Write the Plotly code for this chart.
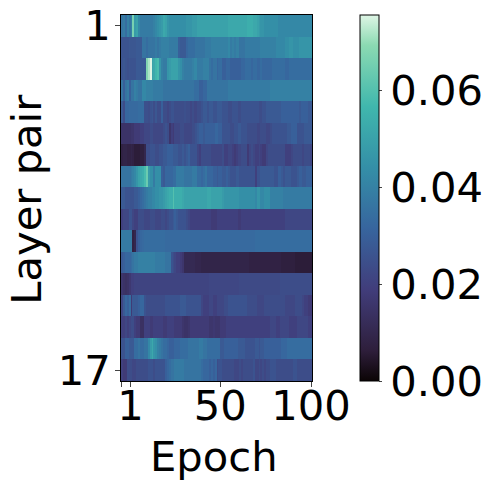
import numpy as np
import plotly.graph_objects as go

# per-mille values, 17 rows by 100 epochs
row01 = [36,38,34,40,36,40,66,48,50,42, 38,38,38,38,38,38,38,40,42,44, 46,48,52,50,46,44,44,44,44,44, 44,44,44,44,46,46,46,48,48,48, 50,50,50,50,50,50,50,50,50,50, 50,50,50,50,50,50,52,52,52,52, 52,52,52,52,52,52,54,54,54,52, 52,50,48,46,46,44,44,44,44,44, 44,44,42,42,42,42,42,42,42,42, 42,42,42,42,42,42,42,42,42,42]
row02 = [26,26,26,26,27,27,27,27,28,28, 28,36,36,34,36,36,36,36,38,36, 38,40,40,40,40,38,38,38,38,38, 30,28,28,28,32,34,34,34,34,36, 36,36,36,36,38,38,38,40,40,40, 40,40,40,40,40,40,42,38,40,38, 40,40,36,36,36,38,38,38,38,38, 38,38,38,40,40,40,40,40,40,40, 40,42,42,42,42,42,44,44,46,46, 44,44,44,46,46,46,46,46,46,46]
row03 = [26,27,26,25,26,26,26,26,28,28, 28,28,28,68,72,76,50,52,56,58, 46,40,38,38,46,48,50,50,50,50, 46,44,40,38,38,38,38,40,42,42, 38,38,38,40,40,40,36,34,36,36, 32,34,34,30,30,32,32,30,30,30, 30,30,30,32,32,34,34,34,32,34, 34,32,32,34,32,32,32,32,32,34, 34,34,34,34,34,34,32,32,34,34, 34,34,34,34,34,34,34,34,34,34]
row04 = [36,30,36,38,30,36,36,40,38,36, 36,42,42,40,40,40,40,38,38,38, 38,38,36,36,36,36,36,36,36,36, 36,36,36,36,36,36,36,36,34,34, 34,30,30,32,32,36,36,36,36,36, 36,36,36,36,36,36,38,38,38,38, 38,38,38,38,38,38,38,38,38,38, 38,38,38,38,38,38,38,38,40,40, 40,40,40,40,40,40,40,40,40,40, 40,40,40,40,40,40,40,40,40,40]
row05 = [28,24,32,32,33,33,33,33,33,34, 34,34,25,25,24,26,27,24,27,24, 24,30,24,24,22,24,26,26,24,24, 24,24,24,25,24,24,22,24,22,22, 24,24,26,28,28,26,28,28,26,26, 28,28,28,26,26,26,24,24,26,26, 26,24,24,26,26,26,26,26,26,26, 26,26,24,24,26,26,28,28,28,28, 28,28,28,28,30,30,30,30,30,30, 30,30,30,28,30,30,30,30,28,28]
row06 = [15,15,15,15,15,16,16,18,18,18, 20,20,22,22,22,24,24,22,22,22, 22,22,24,26,24,16,20,18,22,22, 22,24,24,22,22,22,22,24,24,26, 28,30,30,28,30,30,30,30,30,32, 32,30,30,26,26,26,26,24,24,26, 26,28,28,26,26,26,24,24,24,24, 24,22,22,24,24,24,22,22,24,26, 26,26,26,26,26,26,26,28,28,30, 30,30,26,26,26,26,28,28,28,28]
row07 = [8,9,9,8,8,9,8,6,6,6, 7,7,10,24,24,26,26,26,24,24, 26,26,28,28,30,30,30,28,28,28, 26,26,28,26,28,30,26,26,26,26, 22,20,24,24,24,24,24,22,22,22, 22,22,22,24,20,20,22,22,20,18, 20,22,22,24,24,24,18,22,24,22, 20,20,22,20,18,18,22,24,24,24, 24,24,24,24,24,24,20,20,20,22, 24,24,24,24,24,22,24,24,24,22]
row08 = [36,36,36,36,36,38,40,42,46,50, 52,54,58,64,48,44,44,38,44,44, 44,30,28,32,32,32,32,34,34,38, 38,38,38,36,36,36,36,38,38,38, 34,34,32,34,36,32,32,32,30,30, 28,30,30,28,28,30,28,26,26,26, 28,28,26,26,26,26,26,26,26,26, 20,26,26,28,28,28,28,28,28,28, 26,26,30,30,28,26,28,28,28,26, 26,26,28,30,30,28,28,30,30,30]
row09 = [28,28,26,26,26,26,26,28,28,30, 32,34,36,38,40,40,42,42,44,44, 46,46,48,50,52,54,54,60,54,54, 54,54,52,50,50,50,50,50,50,50, 50,50,50,50,50,52,52,50,50,50, 50,50,50,48,46,46,46,46,46,46, 46,46,44,44,44,44,44,44,44,44, 42,46,46,42,42,44,44,44,40,40, 40,40,40,40,40,38,38,38,38,38, 38,38,38,38,38,38,38,38,38,38]
row10 = [20,22,22,22,26,26,22,20,20,24, 24,24,22,22,22,24,24,24,22,22, 22,24,24,22,24,26,26,28,30,28, 26,26,26,26,24,22,20,20,20,20, 20,20,20,20,20,20,20,18,18,18, 20,20,20,20,20,20,20,20,20,20, 20,18,18,20,20,20,20,20,20,20, 20,20,20,20,20,20,20,20,20,20, 20,20,20,20,20,20,22,22,22,22, 22,22,22,22,22,22,22,22,22,22]
row11 = [38,38,38,38,38,38,8,10,26,30, 32,33,34,34,34,34,34,34,34,34, 34,34,34,33,33,33,33,33,33,33, 33,33,33,33,33,33,33,33,33,33, 33,33,33,33,33,33,33,33,33,33, 33,33,33,33,33,33,33,33,33,33, 33,33,33,33,33,33,33,33,33,33, 34,34,34,34,34,34,34,34,34,34, 34,34,34,34,34,34,34,34,34,34, 34,34,34,34,34,34,34,34,34,34]
row12 = [28,30,32,32,32,34,36,38,38,40, 40,40,40,40,40,40,40,40,38,38, 38,38,38,36,36,36,26,24,22,20, 20,18,16,11,11,11,11,11,11,10, 10,10,9,9,9,9,9,9,9,9, 9,9,9,9,9,9,9,9,9,9, 9,9,9,9,9,9,9,8,8,8, 8,8,8,8,8,8,8,8,8,8, 8,8,8,8,7,7,7,7,7,7, 7,6,6,6,6,6,6,6,6,6]
row13 = [16,15,14,15,17,20,20,21,21,21, 21,21,21,21,21,21,21,21,21,21, 21,21,21,21,21,21,21,21,21,21, 21,21,21,21,21,21,21,21,21,21, 21,21,21,21,21,21,22,22,22,22, 22,22,22,22,22,22,22,22,22,22, 22,22,23,23,23,23,23,23,23,23, 23,23,23,23,23,23,23,23,23,23, 23,23,23,24,24,24,24,24,24,24, 24,24,24,24,24,24,24,24,24,24]
row14 = [22,28,32,30,34,18,28,28,28,30, 32,32,26,24,24,24,24,24,24,24, 24,24,24,26,26,26,26,26,26,26, 26,28,28,28,26,26,26,26,26,26, 26,26,22,20,20,20,22,22,20,20, 22,22,22,22,24,24,26,26,26,26, 26,26,26,26,26,26,24,24,24,24, 24,22,22,22,22,24,24,24,24,24, 24,24,24,24,24,24,22,22,22,22, 22,24,24,24,24,22,20,20,18,18]
row15 = [20,20,22,20,22,24,24,20,18,18, 14,14,20,20,20,18,18,20,20,20, 20,20,18,18,20,20,20,20,18,18, 18,18,16,15,15,16,18,18,18,18, 18,18,18,18,18,18,16,16,17,16, 16,16,18,18,18,20,20,20,20,20, 20,20,20,20,20,20,20,20,20,20, 20,20,20,20,20,20,20,20,22,22, 22,20,20,22,22,22,22,22,20,20, 20,20,22,22,22,22,22,22,20,20]
row16 = [26,26,30,30,28,28,28,34,34,36, 34,34,36,36,42,48,52,46,44,40, 38,36,34,34,32,30,30,30,32,32, 32,34,34,34,34,36,36,36,36,36, 36,38,38,36,36,34,34,34,34,34, 34,34,28,28,30,30,30,30,30,30, 30,28,28,28,28,26,26,26,26,26, 28,28,26,28,28,30,30,30,30,30, 30,30,30,30,32,32,32,34,34,34, 34,34,34,34,34,34,34,34,34,34]
row17 = [20,18,18,24,24,24,22,22,24,24, 24,24,24,24,26,26,26,24,26,26, 26,26,26,30,32,34,36,36,38,38, 38,38,38,36,36,36,36,36,36,36, 36,36,34,32,32,32,30,32,30,32, 24,26,26,24,24,24,24,24,24,22, 22,22,24,22,24,24,24,24,24,26, 22,22,24,22,24,22,24,24,26,26, 26,24,24,24,24,24,24,24,24,24, 26,26,24,24,24,24,24,24,24,24]

rows = [row01, row02, row03, row04, row05, row06, row07, row08, row09, row10,
        row11, row12, row13, row14, row15, row16, row17]
z = np.array(rows) / 1000

epochs = list(range(1, 101))
pairs = list(range(1, 18))

# the page has an 8px body margin, so everything is laid out 8px up and left
W = H = 483
FS = 41.67
LEFT, RIGHT, TOP, BOTTOM = 113, 304, 7, 373.5
PW, PH = RIGHT - LEFT, BOTTOM - TOP
# mako
colors = [[0, "#0b0405"], [0.083, "#2e1e3b"], [0.25, "#413d7b"], [0.417, "#37659e"],
          [0.583, "#348fa7"], [0.75, "#40b7ad"], [0.917, "#8bdab2"], [1, "#def5e5"]]

fig = go.Figure(go.Heatmap(
    x=epochs, y=pairs, z=z, colorscale=colors, zmin=0, zmax=0.0756,
    colorbar=dict(
        x=(352 - LEFT) / PW, xanchor="left", xpad=0, ypad=0,
        thickness=19, thicknessmode="pixels", y=0, yanchor="bottom", len=1, lenmode="fraction",
        tickvals=[0, 0.02, 0.04, 0.06], ticktext=["0.00", "0.02", "0.04", "0.06"],
        ticks="outside", ticklen=3, tickwidth=1, outlinewidth=1, outlinecolor="black",
        tickfont=dict(size=FS),
    ),
))
fig.update_layout(
    width=W, height=H, autosize=False,
    margin=dict(l=LEFT, r=W - RIGHT, t=TOP, b=H - BOTTOM, autoexpand=False),
    paper_bgcolor="white", plot_bgcolor="white",
    font=dict(family="DejaVu Sans", color="black"),
    xaxis=dict(
        range=[0.5, 100.5], showgrid=False, zeroline=False,
        tickvals=[1, 5.5, 52.5, 100], ticktext=["", "1", "50", "100"],
        ticks="outside", ticklen=5, tickwidth=1, tickangle=0, tickfont=dict(size=FS),
        showline=True, linecolor="black", linewidth=1, mirror=True,
        ticklabelstandoff=-17, ticklabeloverflow="allow",
    ),
    yaxis=dict(
        range=[17.5, 0.5], showgrid=False, zeroline=False,
        tickvals=[1, 17], ticktext=["1", "17"],
        ticks="outside", ticklen=5, tickwidth=1, tickfont=dict(size=FS),
        showline=True, linecolor="black", linewidth=1, mirror=True,
        ticklabelstandoff=-4, ticklabeloverflow="allow",
    ),
    annotations=[
        dict(text="Epoch", xref="paper", yref="paper", showarrow=False, font=dict(size=FS),
             x=(206 - LEFT) / PW, y=(BOTTOM - 449) / PH, xanchor="center", yanchor="middle"),
        dict(text="Layer pair", xref="paper", yref="paper", showarrow=False, font=dict(size=FS),
             textangle=-90, x=(19 - LEFT) / PW, y=(BOTTOM - 192) / PH,
             xanchor="center", yanchor="middle"),
    ],
)
fig.write_html("out.html")
